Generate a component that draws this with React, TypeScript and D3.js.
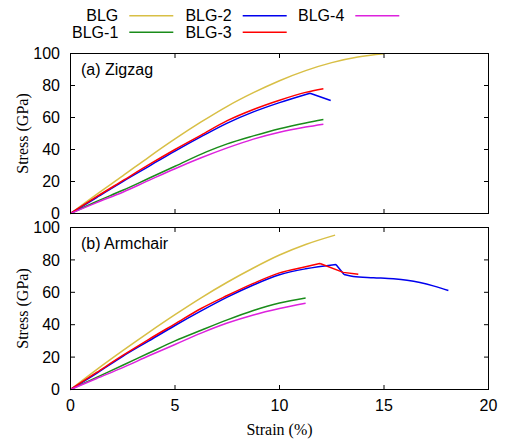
import React from 'react';
import * as d3 from 'd3';

// strain (%) and stress (GPa)
const series = ['BLG', 'BLG-1', 'BLG-2', 'BLG-3', 'BLG-4'];
const colors = ['#d8bf45', '#1a8c1a', '#0000ee', '#ff0000', '#dd22dd'];

const zzBLG: [number, number][] = [[0, 0], [1.25, 12], [2.5, 23.5], [3.75, 35.3], [5, 46.6], [6.25, 57.2], [7.5, 67], [8.75, 75.5], [10, 83], [11.25, 89.3], [12.5, 94.3], [13.75, 97.8], [15, 99.8]];
const zzBLG1: [number, number][] = [[0, 0], [1.25, 7.5], [2.5, 14.5], [3.75, 22], [5, 29.5], [6.5, 38.5], [7.5, 43.5], [8.75, 48.5], [10, 53], [11.25, 56.6], [12.1, 58.7]];
const zzBLG2: [number, number][] = [[0, 0], [1.25, 10], [2.5, 20], [3.75, 29.5], [5, 39], [6.25, 48], [7.5, 56.5], [8.75, 63.5], [10, 69.3], [11.46, 75.2], [12.45, 70.6]];
const zzBLG3: [number, number][] = [[0, 0], [1.25, 10.5], [2.5, 20.5], [3.75, 30.5], [5, 40], [6.25, 49], [7.5, 58], [8.75, 65], [10, 70.8], [11.25, 75.7], [12.1, 78]];
const zzBLG4: [number, number][] = [[0, 0], [1.25, 6.8], [2.5, 13.3], [3.75, 20.7], [5, 28], [6.25, 34.8], [7.5, 41], [8.75, 46.5], [10, 50.8], [11.25, 54], [12.1, 55.8]];

const acBLG: [number, number][] = [[0, 0], [1.25, 12.3], [2.5, 24], [3.75, 35.3], [5, 46.2], [6.25, 56.6], [7.5, 66.2], [8.75, 75], [10, 83], [11.25, 89.5], [12.66, 95.3]];
const acBLG1: [number, number][] = [[0, 0], [1.25, 7.5], [2.5, 15], [3.75, 22.5], [5, 30], [6.25, 36.6], [7.5, 43], [8.75, 48.8], [10, 53.4], [11.25, 56.5]];
const acBLG2: [number, number][] = [[0, 0], [1.25, 10], [2.5, 20.5], [3.75, 30], [5, 39.5], [6.25, 48.5], [7.5, 57], [8.75, 64.5], [10, 70.8], [11.25, 74.5], [12.7, 77.2], [13.09, 71], [13.53, 69.8], [14.5, 69], [15.45, 68.3], [16.1, 67.4], [16.72, 66], [17.4, 63.8], [18.08, 61.1]];
const acBLG3: [number, number][] = [[0, 0], [1.25, 10.5], [2.5, 21], [3.75, 31], [5, 40.5], [6.25, 50], [7.5, 58], [8.75, 65.5], [10, 72], [11.25, 75.8], [11.94, 77.8], [13.05, 72.3], [13.77, 71.2]];
const acBLG4: [number, number][] = [[0, 0], [1.25, 6.8], [2.5, 13.5], [3.75, 20.8], [5, 27.8], [6.25, 34.8], [7.5, 41], [8.75, 46], [10, 50], [11.25, 53.3]];

const zigzag = [zzBLG, zzBLG1, zzBLG2, zzBLG3, zzBLG4];
const armchair = [acBLG, acBLG1, acBLG2, acBLG3, acBLG4];

const xTicks = [0, 5, 10, 15, 20];
const yTicks = [0, 20, 40, 60, 80, 100];

const W = 510;
const H = 439;
const left = 70.5;
const right = 488.5;
const sans = "'Liberation Sans', Arial, sans-serif";
const serif = "'Liberation Serif', 'Times New Roman', 'DejaVu Serif', serif";

const x = d3.scaleLinear().domain([0, 20]).range([left, right]);

// smooth up to the failure peak, straight drop after it, smooth again for the tail
const pieces = (d: [number, number][]) => {
  const pk = d3.maxIndex(d, p => p[1]);
  if (pk >= d.length - 1) return [{ pts: d, smooth: true }];
  const out = [{ pts: d.slice(0, pk + 1), smooth: true }, { pts: d.slice(pk, pk + 2), smooth: false }];
  if (pk + 1 < d.length - 1) out.push({ pts: d.slice(pk + 1), smooth: true });
  return out;
};

const Panel = ({ top, bottom, data, label, showX }: { top: number; bottom: number; data: [number, number][][]; label: string; showX: boolean }) => {
  const y = d3.scaleLinear().domain([0, 100]).range([bottom, top]);
  const smooth = d3.line<[number, number]>().x(d => x(d[0])).y(d => y(d[1])).curve(d3.curveMonotoneX);
  const straight = d3.line<[number, number]>().x(d => x(d[0])).y(d => y(d[1]));
  const tl = 4.5;
  return (
    <g>
      {data.map((d, i) => (
        <path
          key={i}
          d={pieces(d).map(p => (p.smooth ? smooth(p.pts) : straight(p.pts)) || '').join('')}
          fill="none"
          stroke={colors[i]}
          strokeWidth={1.5}
          strokeLinejoin="round"
        />
      ))}
      <rect x={left} y={top} width={right - left} height={bottom - top} fill="none" stroke="#000" strokeWidth={1} />
      {yTicks.map(t => (
        <g key={'y' + t}>
          <line x1={left} x2={left + tl} y1={y(t)} y2={y(t)} stroke="#000" />
          <line x1={right} x2={right - tl} y1={y(t)} y2={y(t)} stroke="#000" />
          <text x={60} y={y(t)} dy="0.36em" textAnchor="end" fontFamily={sans} fontSize={16}>{t}</text>
        </g>
      ))}
      {xTicks.map(t => (
        <g key={'x' + t}>
          <line x1={x(t)} x2={x(t)} y1={bottom} y2={bottom - tl} stroke="#000" />
          <line x1={x(t)} x2={x(t)} y1={top} y2={top + tl} stroke="#000" />
          {showX && <text x={x(t)} y={bottom + 21} textAnchor="middle" fontFamily={sans} fontSize={16}>{t}</text>}
        </g>
      ))}
      <text x={81} y={top + 21} fontFamily={sans} fontSize={16}>{label}</text>
      <text transform={`translate(28,${(top + bottom) / 2}) rotate(-90)`} textAnchor="middle" fontFamily={serif} fontSize={16}>Stress (GPa)</text>
    </g>
  );
};

const App = () => {
  const legendCols = [118.3, 231.7, 344.3];
  const legendRows = [15.7, 32.3];
  return (
    <svg width={W} height={H} style={{ position: 'absolute', left: 0, top: 0, background: '#fff' }}>
      {series.map((s, i) => {
        const col = Math.floor(i / 2);
        const row = i % 2;
        const tx = legendCols[col];
        const ty = legendRows[row];
        return (
          <g key={s}>
            <text x={tx} y={ty} dy="0.36em" textAnchor="end" fontFamily={sans} fontSize={16}>{s}</text>
            <line x1={tx + 11} x2={tx + 55} y1={ty} y2={ty} stroke={colors[i]} strokeWidth={1.5} />
          </g>
        );
      })}
      <Panel top={53.5} bottom={213.5} data={zigzag} label="(a) Zigzag" showX={false} />
      <Panel top={227.5} bottom={389.5} data={armchair} label="(b) Armchair" showX={true} />
      <text x={(left + right) / 2} y={435} textAnchor="middle" fontFamily={serif} fontSize={16}>Strain (%)</text>
    </svg>
  );
};

export default App;
